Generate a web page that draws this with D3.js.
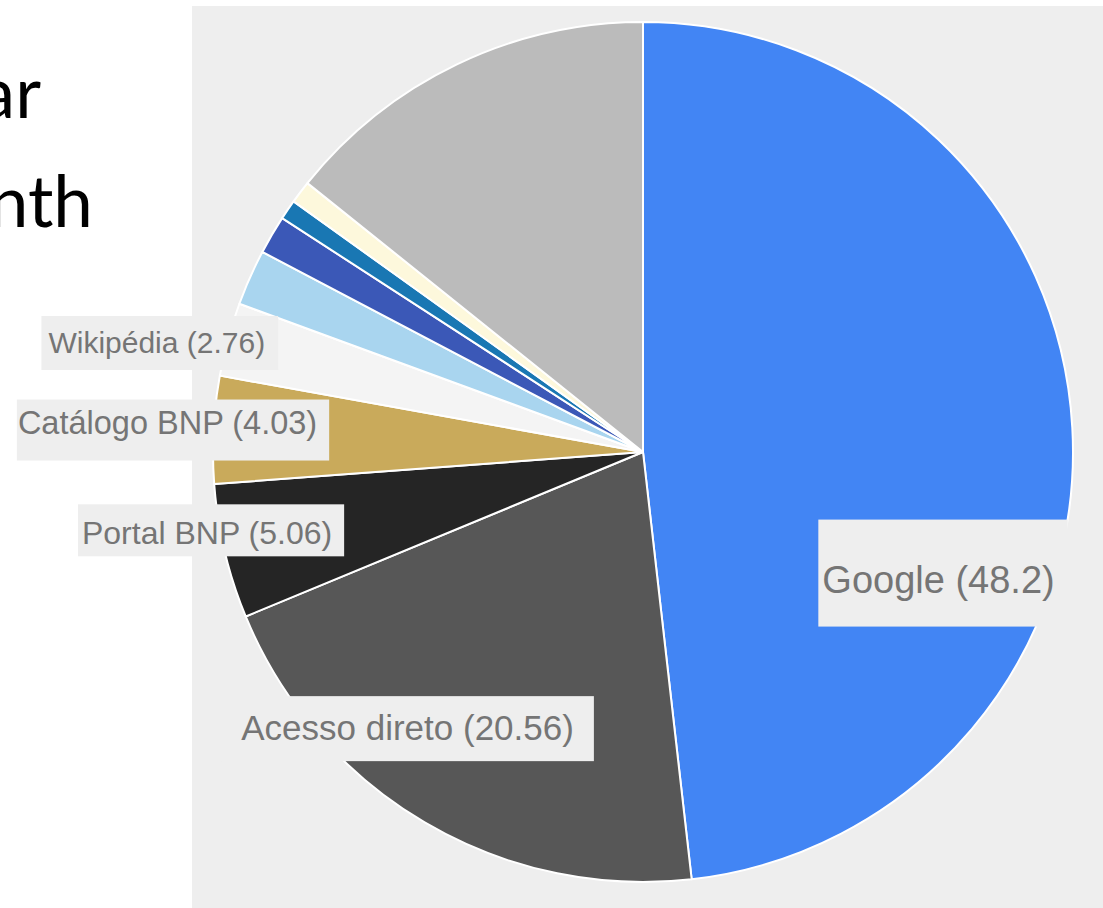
<!DOCTYPE html>
<html lang="pt">
<head>
  <meta charset="UTF-8">
  <title>Origem do tráfego</title>
  <style>
    body { margin: 0; background: #ffffff; }
    #chart { width: 1103px; height: 908px; }
  </style>
  <script src="https://d3js.org/d3.v7.min.js"></script>
</head>
<body>
<div id="chart"></div>
<script>
  // slices, clockwise from 12 o'clock
  var sources = ["Google", "Acesso direto", "Portal BNP", "Catálogo BNP", "Wikipédia",
                 "Outra fonte 1", "Outra fonte 2", "Outra fonte 3", "Outra fonte 4", "Outros"];
  var shares = [48.2, 20.56, 5.06, 4.03, 2.76, 2.1, 1.45, 0.75, 0.85, 14.25];
  var colors = ["#4285f4", "#575757", "#252525", "#c9aa5b", "#f4f4f4",
                "#a9d5ef", "#3b58b7", "#1977b3", "#fdf8dc", "#bbbbbb"];
  // only these carry a visible label
  var labelled = ["Google", "Acesso direto", "Portal BNP", "Catálogo BNP", "Wikipédia"];

  var width = 1103, height = 908;
  var cx = 643, cy = 452, radius = 430;

  var svg = d3.select("#chart").append("svg")
      .attr("width", width)
      .attr("height", height);

  // slide text cut off on the left
  svg.append("text").attr("x", 41).attr("y", 118)
      .attr("text-anchor", "end")
      .style("font-family", "Lato, 'Open Sans', sans-serif")
      .style("font-size", "71px")
      .attr("fill", "#000")
      .text("ar");
  svg.append("text").attr("x", 93).attr("y", 227)
      .attr("text-anchor", "end")
      .style("font-family", "Lato, 'Open Sans', sans-serif")
      .style("font-size", "71px")
      .attr("fill", "#000")
      .text("nth");

  // chart panel
  svg.append("rect")
      .attr("x", 192).attr("y", 6)
      .attr("width", width - 192).attr("height", height - 6)
      .attr("fill", "#eeeeee");

  var data = sources.map(function(s, i) { return { name: s, value: shares[i], color: colors[i] }; });

  var pie = d3.pie().sort(null).value(function(d) { return d.value; });
  var arc = d3.arc().innerRadius(0).outerRadius(radius);
  var arcs = pie(data);

  var g = svg.append("g").attr("transform", "translate(" + cx + "," + cy + ")");

  g.selectAll("path.slice")
      .data(arcs)
      .enter().append("path")
      .attr("class", "slice")
      .attr("d", arc)
      .attr("fill", function(d) { return d.data.color; })
      .attr("stroke", "#ffffff")
      .attr("stroke-width", 2)
      .attr("stroke-linejoin", "round");

  // label layout: angle shift (deg) from the slice middle, radius fraction, anchor, font size, box padding [l,t,r,b]
  var labelStyle = {
    "Google":        { da: 26.5, rk: 0.748, anchor: "middle", size: 38, pad: [4, 39, 13, 26] },
    "Acesso direto": { da: 10,   rk: 0.843, anchor: "middle", size: 35, pad: [20, 12, 20, 14] },
    "Portal BNP":    { da: -1.2, rk: 0.747, anchor: "end",    size: 32, pad: [4, 11, 12, 5] },
    "Catálogo BNP":  { da: 2.3,  rk: 0.761, anchor: "end",    size: 32.5, pad: [1, 5, 12, 20] },
    "Wikipédia":     { da: 1,    rk: 0.915, anchor: "end",    size: 30, pad: [7, 10, 13, 11] }
  };

  var labels = g.selectAll("g.label")
      .data(arcs.filter(function(d) { return labelled.indexOf(d.data.name) >= 0; }))
      .enter().append("g")
      .attr("class", "label");

  labels.each(function(d) {
    var st = labelStyle[d.data.name];
    var mid = (d.startAngle + d.endAngle) / 2 + st.da * Math.PI / 180;
    var p = d3.pointRadial(mid, radius * st.rk);
    var sel = d3.select(this);
    var box = sel.append("rect").attr("fill", "#eeeeee");
    var t = sel.append("text")
        .attr("x", p[0]).attr("y", p[1])
        .attr("dy", "0.358em")
        .attr("text-anchor", st.anchor)
        .style("font-family", "'Liberation Sans', Arial, sans-serif")
        .style("font-size", st.size + "px")
        .attr("fill", "#757575")
        .text(d.data.name + " (" + d.data.value + ")");
    var bb = t.node().getBBox();
    box.attr("x", bb.x - st.pad[0])
       .attr("y", bb.y - st.pad[1])
       .attr("width", bb.width + st.pad[0] + st.pad[2])
       .attr("height", bb.height + st.pad[1] + st.pad[3]);
  });
</script>
</body>
</html>
